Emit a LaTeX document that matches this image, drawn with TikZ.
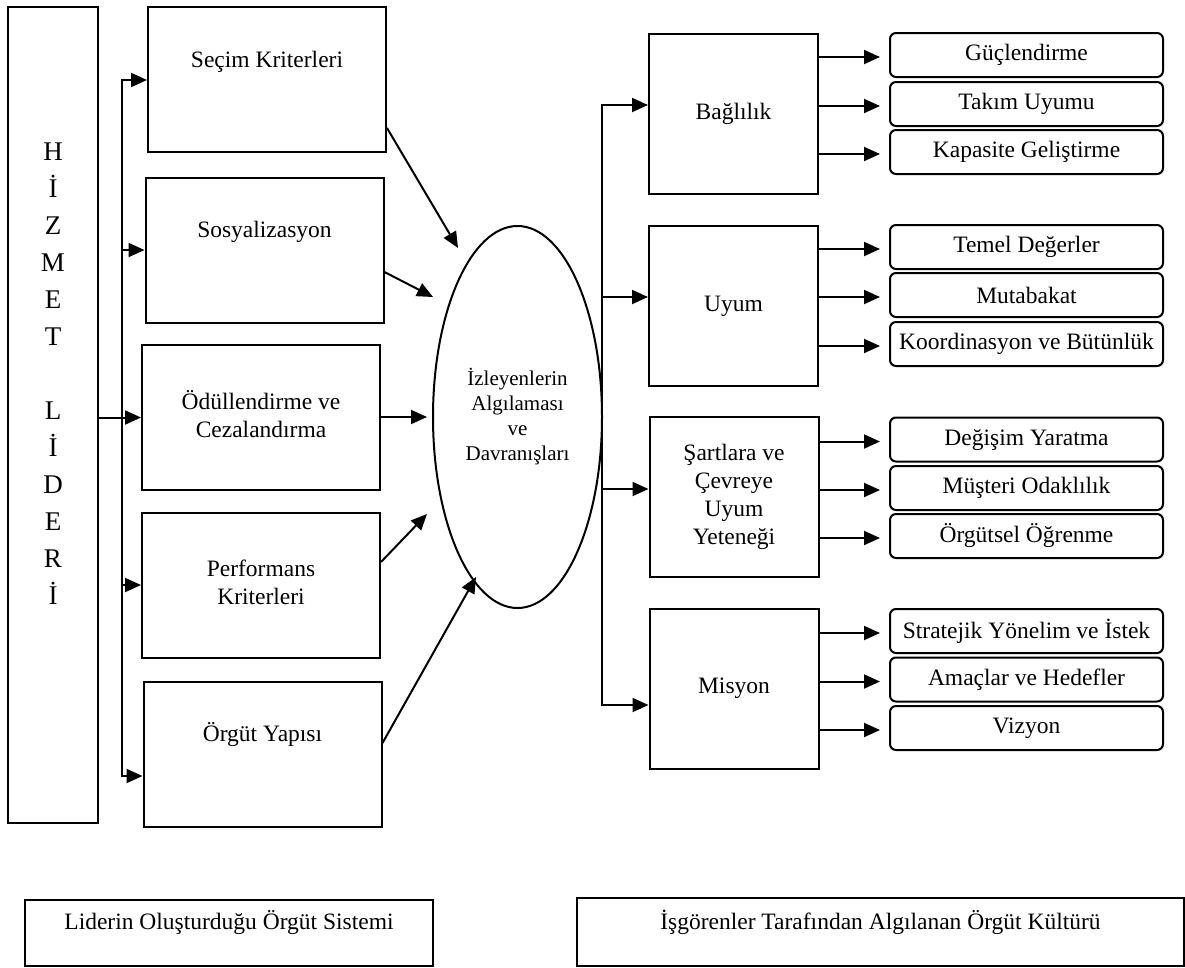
\documentclass[tikz,border=0pt]{standalone}
\usepackage{fontspec}
\setmainfont{Liberation Serif}
\usepackage{tikz}
\usetikzlibrary{arrows.meta}
\usetikzlibrary{shapes.geometric}

\tikzset{
  sysbox/.style={draw, line width=2pt, minimum width=238pt, minimum height=145pt, inner sep=0pt},
  kulbox/.style={draw, line width=2pt, minimum width=169pt, minimum height=160pt, align=center, font=\fontsize{23.5}{28}\selectfont},
  subbox/.style={draw, line width=2pt, rounded corners=6pt, minimum width=273pt, minimum height=44pt, inner sep=0pt, font=\fontsize{23.5}{28}\selectfont},
  boxtext/.style={align=center, font=\fontsize{23.5}{28}\selectfont},
  arr/.style={line width=2pt, -{Triangle[length=16pt,width=14pt]}}
}

\begin{document}
\begin{tikzpicture}[x=1pt,y=-1pt]
\useasboundingbox (0,0) rectangle (1185,967);
%% hizmet lideri
\node[draw, line width=2pt, minimum width=90pt, minimum height=816pt] (lider) at (53,415) {};
\node[align=center, font=\fontsize{27}{37}\selectfont] (liderT) at (53,374) {H\\İ\\Z\\M\\E\\T\\[37pt]L\\İ\\D\\E\\R\\İ};
%% orgut sistemi
\foreach \n/\x/\y in {secim/267/79.5, sosyal/264.5/250, odul/261/417.5, perf/261/585.5, orgut/262.5/754}
    \node[sysbox] (\n) at (\x,\y) {};
\node[boxtext] (secimT) at (267,62) {Seçim Kriterleri};
\node[boxtext] (sosyalT) at (264.5,232) {Sosyalizasyon};
\node[boxtext] (odulT) at (261,414) {Ödüllendirme ve\\Cezalandırma};
\node[boxtext] (perfT) at (261,582) {Performans\\Kriterleri};
\node[boxtext] (orgutT) at (262.5,735) {Örgüt Yapısı};
\foreach \y/\b in {80/secim, 250/sosyal, 585/perf, 776/orgut}
    \coordinate (lb\b) at (122,\y);
\draw[arr] (lborgut) -- (lbsecim) -- (lbsecim -| secim.west);
\draw[arr] (lbsecim) -- (lborgut) -- (lborgut -| orgut.west);
\draw[arr] (lbsosyal) -- (lbsosyal -| sosyal.west);
\draw[arr] (lbperf) -- (lbperf -| perf.west);
\draw[arr] (lider.east |- odul.west) -- (odul.west);
%% izleyenler
\node[draw, ellipse, line width=2pt, minimum width=169pt, minimum height=382pt, inner sep=0pt, align=center, font=\fontsize{21}{25}\selectfont] (alg) at (517.5,417) {İzleyenlerin\\Algılaması\\ve\\Davranışları};
\coordinate (a1) at (458,248);
\coordinate (a2) at (433,297);
\coordinate (a4) at (427,514);
\coordinate (a5) at (476,577);
\draw[arr] ([yshift=-48.5pt]secim.east) -- (a1);
\draw[arr] ([yshift=-22pt]sosyal.east) -- (a2);
\draw[arr, shorten >=5pt] (odul.east |- alg.west) -- (alg.west);
\draw[arr] ([yshift=23.5pt]perf.east) -- (a4);
\draw[arr] ([yshift=11pt]orgut.east) -- (a5);
%% orgut kulturu
\node[kulbox] (bag) at (733.5,113.5) {Bağlılık};
\node[kulbox] (uyum) at (733.5,306) {Uyum};
\node[kulbox] (sart) at (734,497) {Şartlara ve\\Çevreye\\Uyum\\Yeteneği};
\node[kulbox] (misyon) at (734,688.5) {Misyon};
\coordinate (rbbag) at (602,105);
\coordinate (rbuyum) at (602,297);
\coordinate (rbsart) at (602,489);
\coordinate (rbmis) at (602,705);
\draw[arr] (rbmis) -- (rbbag) -- (rbbag -| bag.west);
\draw[arr] (rbbag) -- (rbmis) -- (rbmis -| misyon.west);
\draw[arr] (rbuyum) -- (rbuyum -| uyum.west);
\draw[arr] (rbsart) -- (rbsart -| sart.west);
\foreach \n/\y/\t in {g1/55/Güçlendirme, g2/104/Takım Uyumu, g3/152/Kapasite Geliştirme,
    g4/247/Temel Değerler, g5/295/Mutabakat, g6/344/Koordinasyon ve Bütünlük,
    g7/439.5/Değişim Yaratma, g8/488/Müşteri Odaklılık, g9/536/Örgütsel Öğrenme,
    g10/631/Stratejik Yönelim ve İstek, g11/679.5/Amaçlar ve Hedefler, g12/728/Vizyon}
    \node[subbox] (\n) at (1026.5,\y) {\t};
\foreach \b/\n in {bag/g1, bag/g2, bag/g3, uyum/g4, uyum/g5, uyum/g6, sart/g7, sart/g8, sart/g9, misyon/g10, misyon/g11, misyon/g12}
    \draw[arr, shorten >=9pt] ([yshift=-2pt]\b.east |- \n.west) -- ([yshift=-2pt]\n.west);
%% alt kutular
\node[draw, line width=2pt, minimum width=408pt, minimum height=66pt] (sistem) at (229,933) {};
\node[boxtext] (sistemT) at (229,923) {Liderin Oluşturduğu Örgüt Sistemi};
\node[draw, line width=2pt, minimum width=607pt, minimum height=68pt] (kultur) at (880.5,932) {};
\node[boxtext] (kulturT) at (880.5,922) {İşgörenler Tarafından Algılanan Örgüt Kültürü};
\end{tikzpicture}
\end{document}
